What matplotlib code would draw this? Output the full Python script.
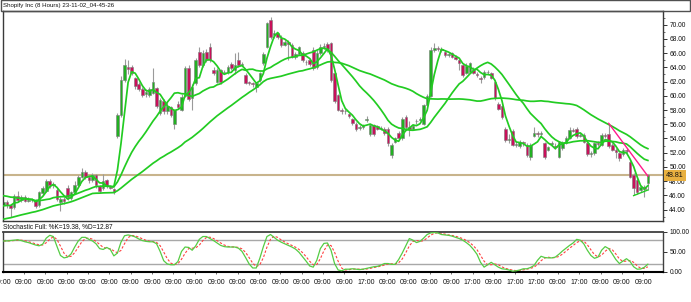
import numpy as np
import pandas as pd
import matplotlib
matplotlib.use("Agg")
import matplotlib.pyplot as plt
from matplotlib import font_manager as fm
from matplotlib.patches import Rectangle
import matplotlib.transforms as mtransforms

# ---------------- data ----------------
title = "Shopify Inc (8 Hours) 23-11-02_04-45-26"

# closes before the first visible bar (needed only for moving-average warm-up)
prior_close = [40.0, 40.3, 40.1, 39.9, 40.2, 40.5, 40.4, 40.0, 40.3, 40.6,
               40.9, 40.7, 40.4, 40.2, 40.5, 40.8, 41.0, 40.7, 40.5, 40.1,
               40.3, 40.6, 40.4, 40.2, 40.5,
               45.9, 46.2, 46.5, 46.8, 46.4, 46.0, 46.3, 46.7, 46.9, 46.5,
               46.1, 46.4, 46.2, 44.4, 44.2, 44.5]

open_ = [44.7, 45.0, 44.6, 44.3, 45.9, 45.3, 45.8, 45.2, 45.4, 45.3,
         44.6, 46.3, 46.6, 48.0, 47.4, 46.8, 45.0, 45.5, 47.1, 45.6,
         46.5, 47.4, 48.6, 49.3, 48.6, 48.1, 48.9, 47.3, 47.0, 48.1,
         47.2, 46.9, 54.4, 57.3, 62.2, 64.0, 64.1, 62.5, 61.7, 61.0,
         60.3, 60.1, 60.35, 61.05, 57.6, 59.3, 57.8, 58.4, 56.0, 58.9,
         58.0, 60.0, 63.9, 59.65, 61.8, 66.1, 64.3, 66.2, 66.9, 63.6,
         62.0, 63.6, 63.4, 63.3, 64.5, 63.6, 65.1, 64.4, 62.9, 62.0,
         61.8, 61.2, 62.2, 64.6, 66.9, 70.7, 68.5, 68.8, 68.1, 67.2,
         67.6, 67.1, 65.5, 65.9, 66.0, 64.7, 65.0, 66.4, 64.0, 66.0,
         66.9, 67.3, 67.4, 63.2, 60.1, 58.0, 57.9, 57.4, 56.7, 56.1,
         55.5, 55.6, 56.6, 54.6, 55.9, 55.75, 55.4, 55.4, 55.4, 51.7,
         53.5, 54.8, 54.0, 57.0, 55.6, 55.4, 56.4, 56.6, 56.1, 58.7,
         60.0, 66.5, 66.7, 66.6, 66.2, 65.8, 66.0, 65.5, 65.0, 64.3,
         63.2, 63.4, 63.7, 63.0, 62.5, 62.6, 63.4, 63.2, 62.0, 58.9,
         58.5, 55.4, 53.8, 55.0, 53.1, 52.9, 53.5, 53.1, 51.4, 54.4,
         54.7, 54.6, 53.3, 52.4, 53.2, 53.0, 51.4, 52.6, 53.4, 54.0,
         55.2, 55.4, 54.4, 54.5, 53.4, 51.8, 51.9, 53.3, 53.1, 54.5,
         54.6, 53.1, 52.4, 51.9, 51.8, 52.4, 50.7, 48.9, 48.2, 46.75,
         47.2, 47.7]

high = [45.3, 45.4, 44.8, 46.2, 46.6, 46.0, 46.0, 45.7, 45.6, 45.5,
        46.6, 47.3, 48.3, 48.3, 47.9, 47.0, 45.8, 45.8, 47.5, 46.6,
        48.0, 48.9, 49.8, 49.5, 48.8, 49.2, 49.0, 47.5, 49.0, 48.3,
        47.5, 47.1, 57.6, 62.8, 65.2, 65.0, 64.4, 62.7, 62.0, 61.2,
        60.9, 61.2, 63.9, 61.3, 59.7, 59.6, 59.3, 58.6, 58.2, 59.2,
        60.2, 64.2, 64.3, 61.6, 65.3, 66.8, 66.5, 66.6, 67.4, 64.0,
        63.9, 63.8, 63.7, 64.3, 64.7, 66.0, 66.2, 64.8, 63.2, 62.1,
        62.0, 62.0, 63.4, 66.2, 70.4, 71.1, 69.2, 69.0, 68.5, 67.9,
        67.8, 67.4, 66.2, 67.0, 66.3, 65.0, 65.3, 66.8, 66.4, 67.3,
        67.4, 67.6, 67.6, 63.4, 60.3, 58.3, 58.2, 57.6, 56.9, 56.3,
        55.9, 56.1, 57.1, 56.1, 56.0, 55.9, 55.8, 55.6, 55.6, 53.3,
        54.2, 55.0, 57.0, 57.3, 56.4, 56.0, 56.8, 57.0, 58.9, 60.3,
        66.8, 67.4, 67.0, 66.9, 66.4, 66.1, 66.2, 65.7, 65.2, 64.5,
        64.6, 64.8, 64.0, 63.4, 62.8, 63.6, 63.6, 63.4, 62.2, 59.1,
        58.7, 55.6, 54.6, 55.3, 53.6, 53.8, 53.7, 53.3, 53.4, 55.6,
        55.0, 55.0, 53.5, 53.0, 53.6, 53.3, 53.7, 53.7, 54.3, 55.6,
        55.5, 55.6, 54.8, 54.7, 53.5, 52.3, 53.5, 53.6, 54.7, 54.8,
        56.1, 53.3, 52.6, 52.1, 52.6, 52.6, 50.9, 49.1, 48.4, 47.5,
        47.4, 49.0]

low = [44.3, 44.2, 43.0, 44.1, 45.0, 45.0, 45.0, 45.0, 45.0, 44.2,
       44.4, 46.0, 46.4, 47.0, 47.1, 45.2, 43.8, 44.8, 45.4, 45.3,
       46.3, 47.2, 48.4, 48.3, 47.8, 47.9, 47.1, 46.3, 46.8, 47.0,
       46.9, 46.2, 54.0, 57.0, 61.9, 63.0, 62.9, 61.0, 60.7, 59.9,
       59.9, 59.9, 60.2, 58.3, 57.3, 57.5, 57.4, 57.0, 55.4, 58.1,
       57.8, 59.8, 59.3, 58.0, 61.5, 64.0, 64.0, 64.8, 64.7, 62.9,
       61.8, 61.7, 63.0, 63.1, 63.6, 63.0, 64.0, 64.2, 61.6, 61.5,
       61.3, 60.6, 62.0, 64.3, 66.7, 68.0, 68.2, 68.0, 66.8, 67.0,
       65.0, 65.3, 65.2, 65.7, 64.8, 64.4, 64.2, 63.6, 63.8, 65.7,
       66.6, 66.2, 62.0, 59.0, 57.8, 57.5, 57.4, 56.9, 55.9, 55.1,
       55.2, 55.4, 56.3, 54.3, 54.3, 55.2, 55.2, 54.5, 53.0, 51.2,
       53.3, 53.8, 53.8, 55.3, 54.3, 55.2, 56.1, 56.4, 55.9, 58.5,
       59.8, 66.2, 66.3, 66.1, 65.5, 65.5, 65.3, 65.0, 63.7, 62.7,
       63.0, 63.2, 63.0, 62.6, 61.75, 62.4, 63.0, 62.3, 59.4, 58.0,
       56.8, 53.5, 53.4, 52.9, 52.8, 52.6, 53.0, 51.4, 51.0, 54.2,
       54.2, 54.3, 51.1, 52.2, 53.0, 52.5, 51.2, 52.4, 53.2, 53.9,
       54.9, 54.1, 54.2, 53.3, 51.5, 51.4, 51.7, 52.9, 52.9, 54.0,
       52.7, 52.2, 51.3, 50.8, 51.6, 51.9, 48.4, 46.0, 46.2, 46.5,
       45.7, 46.8]

close = [45.0, 44.6, 44.2, 45.9, 45.3, 45.8, 45.2, 45.4, 45.3, 44.5,
         46.4, 47.1, 48.0, 47.4, 47.6, 45.5, 45.5, 45.2, 45.7, 46.4,
         47.5, 48.6, 49.3, 48.6, 48.1, 48.9, 47.4, 46.6, 48.0, 47.3,
         47.1, 46.5, 57.3, 62.2, 64.3, 63.8, 63.2, 61.4, 61.0, 60.1,
         60.5, 60.9, 62.0, 58.5, 59.4, 57.8, 58.6, 57.3, 58.0, 58.4,
         59.9, 63.9, 59.6, 61.3, 65.0, 64.3, 66.0, 65.0, 65.0, 63.2,
         63.6, 62.0, 63.3, 64.0, 63.9, 64.3, 64.3, 64.5, 61.8, 61.8,
         61.6, 61.85, 63.2, 65.9, 70.2, 68.3, 68.8, 68.3, 67.2, 67.6,
         67.3, 65.5, 65.9, 66.8, 65.0, 64.7, 64.5, 63.9, 66.0, 66.9,
         67.0, 66.6, 62.2, 59.2, 58.0, 57.9, 57.8, 57.2, 56.2, 55.3,
         55.6, 55.9, 56.7, 55.9, 54.6, 55.4, 55.5, 54.7, 53.3, 53.1,
         54.0, 54.0, 56.8, 55.6, 55.4, 55.8, 56.4, 56.7, 58.7, 60.0,
         66.5, 66.7, 66.6, 66.4, 65.7, 65.9, 65.5, 65.2, 64.6, 62.9,
         64.2, 64.6, 63.2, 62.9, 62.4, 63.4, 63.3, 62.5, 59.65, 58.2,
         57.0, 53.8, 53.9, 53.1, 53.2, 53.5, 53.3, 51.7, 53.1, 54.7,
         54.6, 54.7, 51.4, 52.75, 53.3, 52.8, 53.5, 53.4, 54.0, 55.2,
         55.1, 54.35, 54.5, 53.5, 51.8, 51.9, 53.3, 53.2, 54.5, 54.3,
         52.9, 52.4, 52.1, 51.2, 52.4, 52.2, 48.6, 47.0, 46.5, 47.2,
         46.9, 48.81]

stoch_k = [77, 77, 78, 79, 80, 78, 75, 73, 70, 67,
           65, 69, 84, 91, 88, 64, 41, 35, 37, 45,
           62, 77, 86, 86, 81, 77, 70, 58, 56, 61,
           56, 40, 47, 74, 90, 92, 90, 87, 82, 78,
           76, 75, 75, 70, 51, 28, 20, 18, 18, 26,
           51, 62, 61, 54, 65, 81, 88, 88, 83, 78,
           72, 66, 63, 62, 62, 62, 59, 51, 36, 20,
           10, 10, 34, 63, 88, 93, 86, 79, 74, 70,
           66, 62, 57, 49, 38, 27, 15, 12, 29, 58,
           71, 72, 54, 21, 5, 3, 7, 7, 8, 7,
           6, 7, 9, 11, 13, 14, 17, 21, 21, 19,
           19, 31, 47, 65, 83, 79, 73, 76, 84, 93,
           97, 98, 97, 93, 92, 91, 89, 86, 83, 79,
           73, 66, 56, 44, 24, 12, 18, 24, 18, 12,
           8, 7, 5, 2, 3, 5, 8, 8, 11, 16,
           29, 39, 36, 35, 35, 37, 44, 52, 59, 66,
           72, 81, 79, 70, 54, 41, 34, 37, 54, 63,
           58, 45, 31, 21, 27, 33, 26, 13, 7, 7.5,
           11.73, 19.38]

time_labels = ["09:00"] * 17 + ["17:00", "09:00", "09:00", "09:00", "09:00",
                                "17:00", "09:00", "17:00", "17:00", "09:00",
                                "17:00", "09:00", "09:00", "09:00"]
label_step = 6          # bars between time labels
label_offset = -0.25    # bar position of the first label

ma_periods = [4, 17, 42]
price_ticks = list(range(44, 71, 2))
stoch_levels = [20, 80]
pink_trend_bars, pink_trend_prices = [170, 181], [56.13, 48.7]
green_trend_bars, green_trend_prices = [177, 181], [45.96, 46.75]

# ---------------- fonts ----------------
names = {f.name for f in fm.fontManager.ttflist}
FONT = "Liberation Sans" if "Liberation Sans" in names else "DejaVu Sans"
plt.rcParams["font.family"] = [FONT, "DejaVu Sans"]
FS_TITLE = 4.4
FS_SUB = 4.7
FS_XLAB = 5.0
FS_PRICE = 4.8

# ---------------- figure ----------------
W, H = 691, 302
fig = plt.figure(figsize=(W / 100, H / 100), dpi=100)
fig.patch.set_facecolor("white")


def px_axes(l, t, r, b):
    return fig.add_axes([l / W, 1 - b / H, (r - l) / W, (b - t) / H])


ax = px_axes(3, 11, 663, 220.7)
ax2 = px_axes(3, 231.7, 663, 272)

o = np.array(open_); h = np.array(high); l = np.array(low); c = np.array(close)
n = len(c)
x = np.arange(n)

# wicks
ax.vlines(x, l, h, color="#9a9a9a", lw=0.8, zorder=1)
bull = c >= o
body_lo = np.minimum(o, c)
body_h = np.maximum(np.abs(c - o), 0.07)
ax.bar(x[bull], body_h[bull], bottom=body_lo[bull], width=0.72,
       color="#22B022", edgecolor="#7c7c7c", lw=0.4, zorder=2)
ax.bar(x[~bull], body_h[~bull], bottom=body_lo[~bull], width=0.72,
       color="#C8105A", edgecolor="#7c7c7c", lw=0.4, zorder=2)

# moving averages
full = pd.Series(list(prior_close) + list(close))
for p in ma_periods:
    ma = full.rolling(p).mean().to_numpy()[len(prior_close):]
    ax.plot(x, ma, color="#22CC22", lw=1.25, zorder=3)

# trend lines
ax.plot(pink_trend_bars, pink_trend_prices, color="#FF1A8C", lw=1.0, zorder=4)
ax.plot(green_trend_bars, green_trend_prices, color="#22CC22", lw=1.0, zorder=4)

# bid line
ax.axhline(c[-1], color="#C8B48C", lw=1.5, zorder=0.5)

xlim = (-0.14, 185.25)
ax.set_xlim(*xlim)
ax.set_ylim(42.43, 71.93)
ax.set_xticks([])
ax.yaxis.tick_right()
ax.set_yticks(price_ticks)
ax.set_yticklabels([f"{v:.2f}" for v in price_ticks])
ax.set_yticks(np.arange(43, 72, 1), minor=True)
ax.tick_params(axis="y", which="major", length=3, width=0.7, color="#333333",
               labelsize=FS_PRICE, pad=1.5, labelcolor="#111111")
ax.tick_params(axis="y", which="minor", length=1.5, width=0.6, color="#555555")
for s in ax.spines.values():
    s.set_color("#3a3a3a"); s.set_linewidth(1.0)

# last price label
trans = mtransforms.blended_transform_factory(ax.transAxes, ax.transData)
ax.text(1.004, c[-1], f"{c[-1]:.2f}", transform=trans, ha="left", va="center",
        fontsize=FS_PRICE + 0.3, color="#111111", zorder=10,
        bbox=dict(boxstyle="square,pad=0.3", fc="#E8B040", ec="none"))

# ---------------- stochastic ----------------
k = pd.Series(stoch_k, dtype=float)
d = k.rolling(3, min_periods=1).mean()
for lv in stoch_levels:
    ax2.axhline(lv, color="#A8A8A8", lw=1.0, zorder=0.5)
ax2.plot(x, k.to_numpy(), color="#55CC44", lw=0.9, zorder=3)
ax2.plot(x, d.to_numpy(), color="#FF4040", lw=0.8, ls=(0, (2.2, 1.6)), zorder=2)
ax2.set_xlim(*xlim)
ax2.set_ylim(0, 100)
ax2.yaxis.tick_right()
ax2.set_yticks([0, 50, 100])
ax2.set_yticklabels(["0.00", "50.00", "100.00"])
ax2.tick_params(axis="y", length=3, width=0.7, color="#333333", labelsize=FS_PRICE,
                pad=1.5, labelcolor="#111111")
for s in ax2.spines.values():
    s.set_color("#404040"); s.set_linewidth(1.0)
ax2.spines["bottom"].set_color("#000000"); ax2.spines["bottom"].set_linewidth(1.5)
ax2.spines["top"].set_linewidth(1.3)

label_pos = [label_offset + label_step * i for i in range(len(time_labels))]
ax2.set_xticks([p for p in label_pos if p >= xlim[0]])
ax2.set_xticklabels([])
ax2.tick_params(axis="x", length=1.5, width=0.6, color="#555555")
for p, lab in zip(label_pos, time_labels):
    ax2.annotate(lab, xy=(p, 0), xycoords=("data", "axes fraction"),
                 xytext=(0, -5.3), textcoords="offset points", ha="center",
                 va="top", fontsize=FS_XLAB, color="#111111", annotation_clip=False)

fig.text(3 / W, 1 - 226.5 / H,
         f"Stochastic Full: %K={k.iloc[-1]:.2f}, %D={d.iloc[-1]:.2f}",
         fontsize=FS_SUB, va="center", ha="left", color="#111111")

# title strip
fig.add_artist(Rectangle((0.5 / W, 1 - 11 / H), 689.5 / W, 10.5 / H,
                         transform=fig.transFigure, fill=False,
                         ec="#505050", lw=1.0))
fig.text(3 / W, 1 - 5.8 / H, title, fontsize=FS_TITLE, va="center", ha="left",
         color="#111111")

fig.savefig("out.png", dpi=100, facecolor="white")
